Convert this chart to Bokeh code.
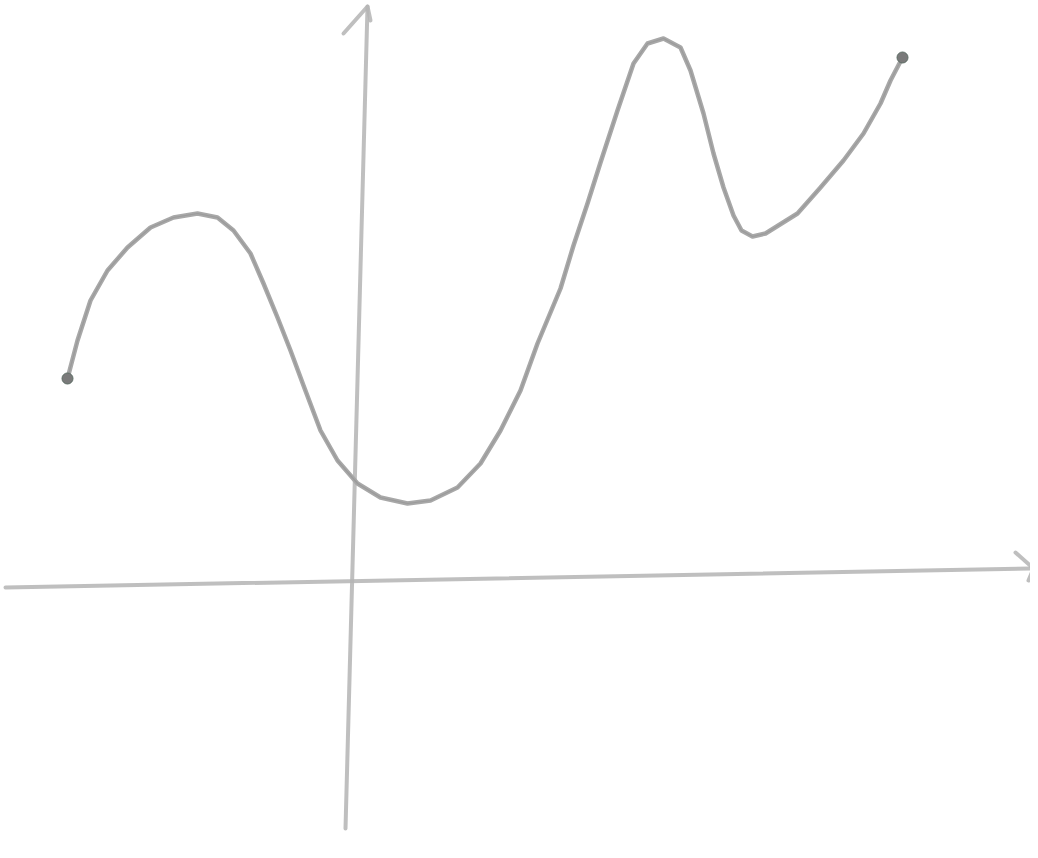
from bokeh.plotting import figure
from bokeh.models import Range1d
from bokeh.embed import file_html
from bokeh.resources import INLINE

# Curve (origin where the axes cross)
curve_x = [-2.85, -2.75, -2.62, -2.45, -2.25, -2.02, -1.79, -1.55, -1.35, -1.19,
           -1.02, -0.89, -0.75, -0.62, -0.49, -0.32, -0.15, 0.05, 0.28, 0.55,
           0.78, 1.05, 1.28, 1.48, 1.68, 1.85, 2.08, 2.21, 2.35, 2.48,
           2.65, 2.81, 2.95, 3.11, 3.28, 3.38, 3.51, 3.61, 3.71, 3.81,
           3.89, 4.00, 4.13, 4.45, 4.68, 4.91, 5.11, 5.28, 5.38, 5.50]
curve_y = [1.97, 2.35, 2.75, 3.05, 3.28, 3.48, 3.58, 3.62, 3.58, 3.45,
           3.22, 2.92, 2.58, 2.25, 1.90, 1.45, 1.15, 0.92, 0.78, 0.72,
           0.75, 0.88, 1.12, 1.45, 1.85, 2.32, 2.87, 3.30, 3.72, 4.13,
           4.65, 5.12, 5.32, 5.37, 5.28, 5.05, 4.62, 4.22, 3.88, 3.60,
           3.45, 3.39, 3.42, 3.62, 3.88, 4.15, 4.42, 4.72, 4.95, 5.18]
end_x = [-2.85, 5.50]
end_y = [1.97, 5.18]

# Hand-drawn axes
xaxis_x = [-3.47, 6.81]
xaxis_y = [-0.12, 0.07]
yaxis_x = [-0.07, 0.15]
yaxis_y = [-2.53, 5.69]
xarrow_x = [6.63, 6.81, 6.76]
xarrow_y = [0.23, 0.07, -0.05]
yarrow_x = [-0.09, 0.15, 0.18]
yarrow_y = [5.42, 5.69, 5.55]

p = figure(width=1030, height=850, output_backend="svg", toolbar_location=None,
           x_range=Range1d(-3.52, 6.78), y_range=Range1d(-2.75, 5.75),
           min_border=0, background_fill_color="white", border_fill_color="white")
p.axis.visible = False
p.grid.visible = False
p.outline_line_color = None

pencil = "#b4b4b4"
for xs, ys in [(xaxis_x, xaxis_y), (yaxis_x, yaxis_y), (xarrow_x, xarrow_y), (yarrow_x, yarrow_y)]:
    p.line(xs, ys, line_color=pencil, line_width=4, line_alpha=0.85, line_cap="round", line_join="round")

p.line(curve_x, curve_y, line_color="#a8a8a8", line_width=4.5, line_cap="round", line_join="round")
p.line(curve_x, curve_y, line_color="#8e8e8e", line_width=1.2, line_alpha=0.5, line_join="round")
p.scatter(end_x, end_y, size=11, fill_color="#7a7a7a", line_color="#5e6e66", line_width=1)

open("out.html", "w").write(file_html(p, INLINE))
